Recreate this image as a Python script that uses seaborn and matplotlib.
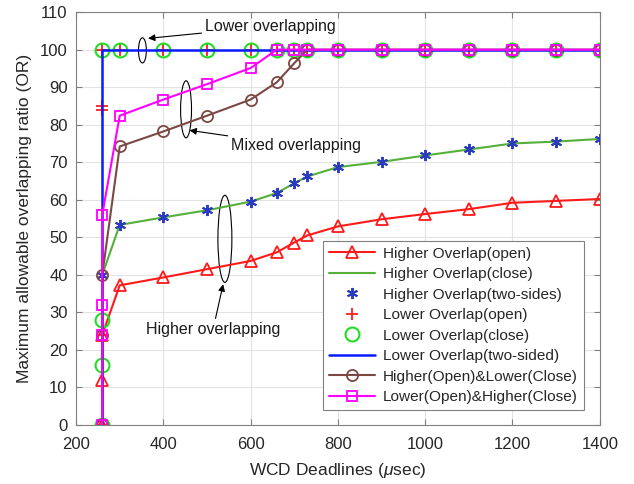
import matplotlib
matplotlib.use("Agg")
import matplotlib.pyplot as plt
from matplotlib.patches import Ellipse
import seaborn as sns
import pandas as pd

# ---- data -------------------------------------------------------------
x_ho = [260, 260, 260, 300, 400, 500, 600, 660, 700, 730, 800, 900, 1000, 1100, 1200, 1300, 1400]
higher_open = [0, 12, 24, 37.2, 39.3, 41.5, 43.7, 46.0, 48.6, 50.5, 52.9, 54.8, 56.2, 57.5, 59.2, 59.7, 60.2]

x_hc = [260, 260, 300, 400, 500, 600, 660, 700, 730, 800, 900, 1000, 1100, 1200, 1300, 1400]
higher_close = [0, 40, 53.3, 55.3, 57.2, 59.5, 61.8, 64.4, 66.2, 68.7, 70.1, 71.8, 73.4, 75.0, 75.5, 76.2]

x_hts = [260, 300, 400, 500, 600, 660, 700, 730, 800, 900, 1000, 1100, 1200, 1300, 1400]
higher_two = [40, 53.3, 55.3, 57.2, 59.5, 61.8, 64.4, 66.2, 68.7, 70.1, 71.8, 73.4, 75.0, 75.5, 76.2]

x_lo = [260, 260, 260, 260, 260, 300, 400, 500, 600, 660, 700, 730, 800, 900, 1000, 1100, 1200, 1300, 1400]
lower_open = [0, 24, 84, 85, 100, 100, 100, 100, 100, 100, 100, 100, 100, 100, 100, 100, 100, 100, 100]

x_lc = [260, 260, 260, 260, 300, 400, 500, 600, 660, 700, 730, 800, 900, 1000, 1100, 1200, 1300, 1400]
lower_close = [0, 16, 28, 100, 100, 100, 100, 100, 100, 100, 100, 100, 100, 100, 100, 100, 100, 100]

x_lts = [260, 260, 300, 400, 500, 600, 660, 700, 730, 800, 900, 1000, 1100, 1200, 1300, 1400]
lower_two = [0, 100, 100, 100, 100, 100, 100, 100, 100, 100, 100, 100, 100, 100, 100, 100]

x_mix1 = [260, 260, 260, 300, 400, 500, 600, 660, 700, 730, 800, 900, 1000, 1100, 1200, 1300, 1400]
hopen_lclose = [0, 24, 40, 74.2, 78.2, 82.4, 86.7, 91.3, 96.4, 100, 100, 100, 100, 100, 100, 100, 100]

x_mix2 = [260, 260, 260, 260, 300, 400, 500, 600, 660, 700, 730, 800, 900, 1000, 1100, 1200, 1300, 1400]
lopen_hclose = [0, 24, 32, 56, 82.4, 86.7, 90.8, 95.1, 100, 100, 100, 100, 100, 100, 100, 100, 100, 100]

x_ticks = [200, 400, 600, 800, 1000, 1200, 1400]
y_ticks = list(range(0, 111, 10))

labels = ["Higher Overlap(open)", "Higher Overlap(close)", "Higher Overlap(two-sides)",
          "Lower Overlap(open)", "Lower Overlap(close)", "Lower Overlap(two-sided)",
          "Higher(Open)&Lower(Close)", "Lower(Open)&Higher(Close)"]

# ---- style ------------------------------------------------------------
sns.set_style("whitegrid")
plt.rcParams["font.family"] = ["Liberation Sans", "DejaVu Sans"]
plt.rcParams["mathtext.fontset"] = "custom"
plt.rcParams["mathtext.it"] = "Liberation Sans:italic"
plt.rcParams["mathtext.rm"] = "Liberation Sans"

fig = plt.figure(figsize=(6.34, 4.84), dpi=100)
ax = fig.add_axes([0.12, 0.122, 0.826, 0.853])

RED, GREEN, STAR, LGREEN, BLUE, BROWN, MAG = ("#ff1a1a", "#55b03a", "#2a3bbf", "#22dd22",
                                              "#0a1aff", "#7c4843", "#ff00ff")

def style(color, marker=None, ms=8, face="none", mew=1.3, lw=1.5, ls="-"):
    kw = dict(color=color, linewidth=lw, linestyle=ls)
    if marker is not None:
        kw.update(marker=marker, markersize=ms, markerfacecolor=face,
                  markeredgecolor=color, markeredgewidth=mew)
    return kw

ASTERISK = (6, 2, 0)

series = [
    (x_ho, higher_open, style(RED, "^", 8)),
    (x_hc, higher_close, style(GREEN)),
    (x_hts, higher_two, style(STAR, ASTERISK, 8, face=STAR, mew=1.4, ls="none")),
    (x_lo, lower_open, style(RED, "+", 9, mew=1.3, ls="none")),
    (x_lc, lower_close, style(LGREEN, "o", 10, mew=1.5, ls="none")),
    (x_lts, lower_two, style(BLUE, lw=1.8)),
    (x_mix1, hopen_lclose, style(BROWN, "o", 8)),
    (x_mix2, lopen_hclose, style(MAG, "s", 7)),
]

for (xs, ys, kw), lab in zip(series, labels):
    df = pd.DataFrame({"x": xs, "y": ys})
    sns.lineplot(data=df, x="x", y="y", ax=ax, estimator=None, sort=False,
                 label=lab, legend=False, **kw)

# ---- axes -------------------------------------------------------------
ax.set_xlim(200, 1400)
ax.set_ylim(0, 110)
ax.set_xticks(x_ticks)
ax.set_yticks(y_ticks)
ax.grid(True, color="#e3e3e3", linewidth=0.8)
for s in ax.spines.values():
    s.set_color("#808080")
    s.set_linewidth(0.8)
ax.tick_params(axis="both", which="both", direction="in", length=4, width=0.8,
               colors="#808080", labelcolor="#262626", labelsize=12,
               top=True, right=True, bottom=True, left=True)
ax.tick_params(axis="x", pad=9)
ax.tick_params(axis="y", pad=6)
ax.set_xlabel(r"WCD Deadlines ($\mu$sec)", fontsize=12.5, color="#262626", labelpad=6)
ax.set_ylabel("Maximum allowable overlapping ratio (OR)", fontsize=12.5, color="#262626", labelpad=6)

# ---- annotations ------------------------------------------------------
arrow = dict(arrowstyle="-|>", color="black", lw=0.8, mutation_scale=10, shrinkA=0, shrinkB=0)
ax.add_patch(Ellipse((352, 99.8), 18, 6.7, fill=False, edgecolor="black", lw=0.8))
ax.annotate("Lower overlapping", xy=(365, 103.0), xytext=(495, 106.2),
            fontsize=11.5, va="center", ha="left", color="#1a1a1a", arrowprops=arrow)
ax.add_patch(Ellipse((452, 84.1), 25, 15.2, fill=False, edgecolor="black", lw=0.8))
ax.annotate("Mixed overlapping", xy=(460, 78.5), xytext=(555, 74.4),
            fontsize=11.5, va="center", ha="left", color="#1a1a1a", arrowprops=arrow)
ax.add_patch(Ellipse((541, 49.6), 32, 23.2, fill=False, edgecolor="black", lw=0.8))
ax.annotate("Higher overlapping", xy=(537, 37.5), xytext=(514, 25.5),
            fontsize=11.5, va="center", ha="center", color="#1a1a1a", arrowprops=arrow)

# ---- legend -----------------------------------------------------------
handles, labs = ax.get_legend_handles_labels()
leg = ax.legend(handles, labs, loc="lower right", bbox_to_anchor=(0.985, 0.017),
                fontsize=11.1, frameon=True, fancybox=False, framealpha=1,
                edgecolor="#808080", numpoints=1, handlelength=3.0,
                labelspacing=0.42, borderpad=0.4, handletextpad=0.5)
leg.get_frame().set_linewidth(0.8)

fig.savefig("out.png", dpi=100)
